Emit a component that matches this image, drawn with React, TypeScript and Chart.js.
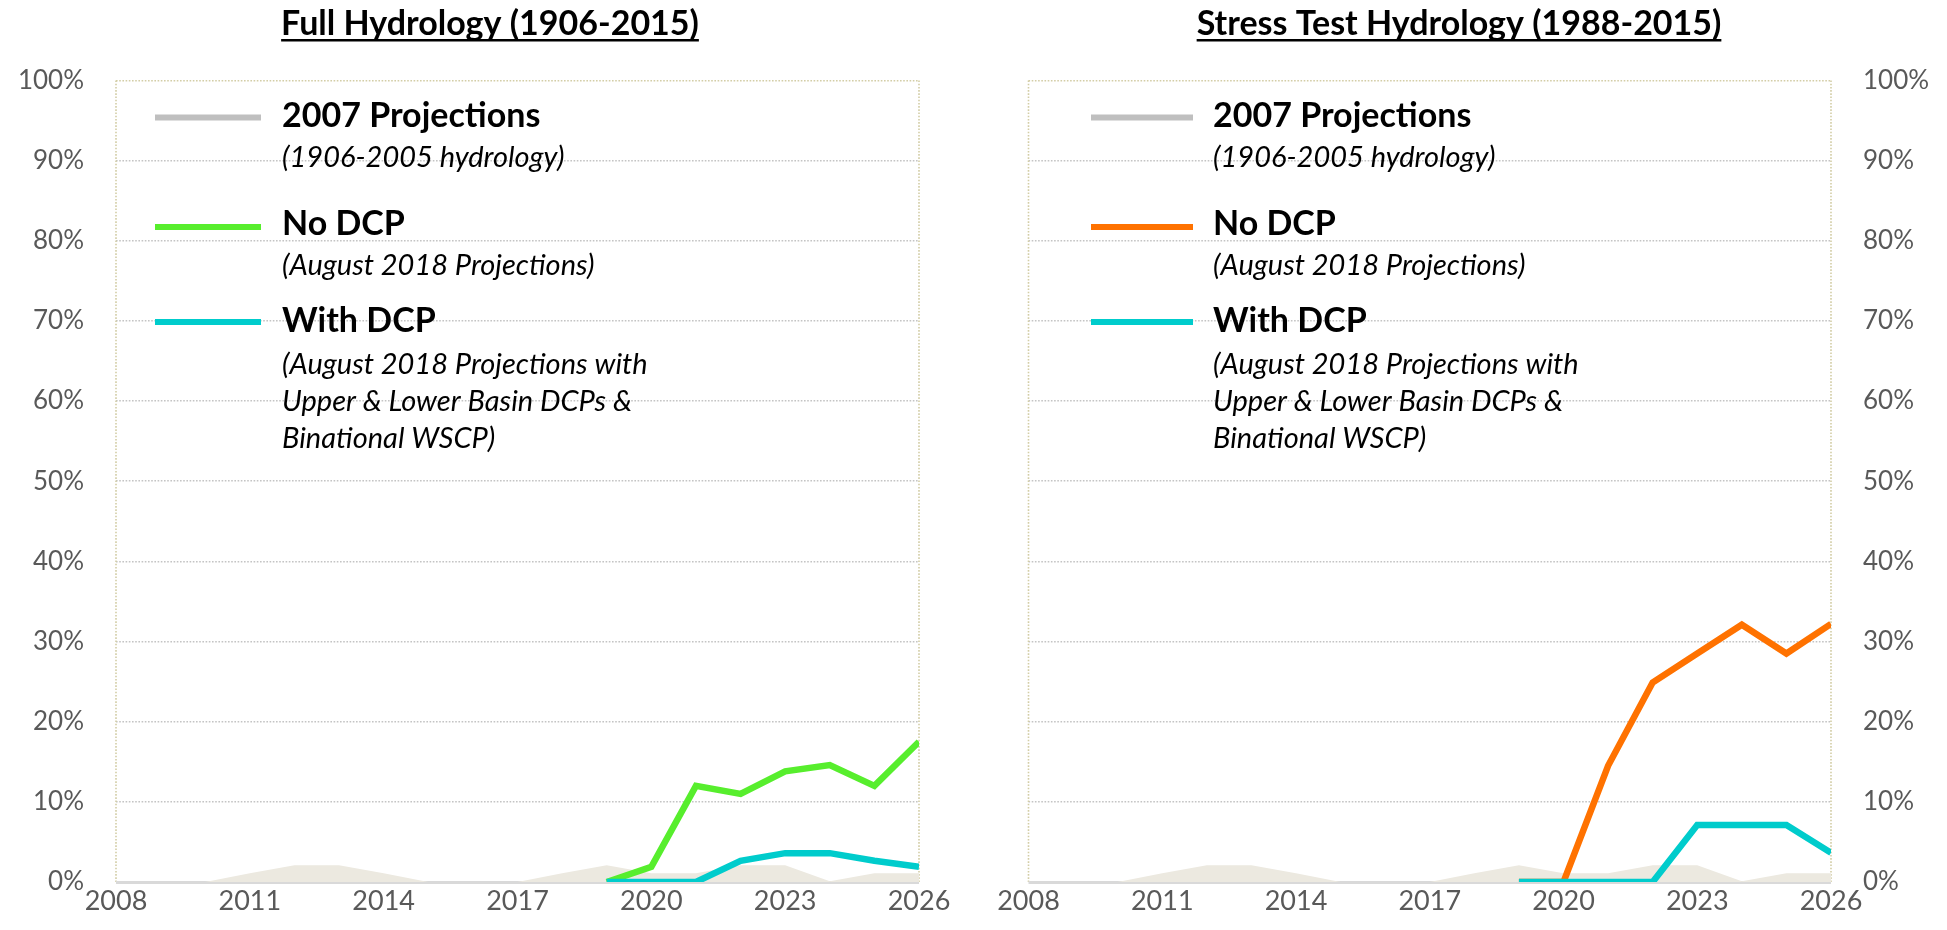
import React, { useEffect, useRef } from "react";
import { Chart, registerables } from "chart.js";

Chart.register(...registerables);

// ---------- data ----------
const areaYears = [2008, 2009, 2010, 2011, 2012, 2013, 2014, 2015, 2016, 2017, 2018, 2019, 2020, 2021, 2022, 2023, 2024, 2025, 2026];
const projections2007 = [0, 0, 0, 1.1, 2.1, 2.1, 1.1, 0, 0, 0, 1.1, 2.1, 1.1, 1.1, 2.1, 2.1, 0.1, 1.1, 1.1];

const lineYears = [2019, 2020, 2021, 2022, 2023, 2024, 2025, 2026];
const fullNoDcp = [0, 1.9, 12.0, 11.0, 13.8, 14.6, 12.0, 17.5];
const fullWithDcp = [0, 0, 0, 2.65, 3.6, 3.6, 2.65, 1.9];
const stressNoDcp = [0, 0, 14.5, 24.9, 28.5, 32.1, 28.5, 32.2];
const stressWithDcp = [0, 0, 0, 0, 7.1, 7.1, 7.1, 3.65];

const xTickYears = [2008, 2011, 2014, 2017, 2020, 2023, 2026];
const yTickValues = [0, 10, 20, 30, 40, 50, 60, 70, 80, 90, 100];

const titles = ["Full Hydrology (1906-2015)", "Stress Test Hydrology (1988-2015)"];
const legendHeads = ["2007 Projections", "No DCP", "With DCP"];
const legendSubs = [
  ["(1906-2005 hydrology)"],
  ["(August 2018 Projections)"],
  ["(August 2018 Projections with", "Upper & Lower Basin DCPs &", "Binational WSCP)"],
];

// ---------- styles ----------
const GREEN = "#57EE2D";
const ORANGE = "#FF7200";
const CYAN = "#00CCCC";
const LEGEND_GRAY = "#BFBFBF";
const AREA = "#ECE9E0";
const FRAME = "#D3CDA6";
const GRID = "#C4C4C4";
const TICK = "#595959";
const FONT = "Lato, 'Open Sans', sans-serif";

type Side = "left" | "right";

function pts(xs: number[], ys: number[]) {
  return xs.map((x, i) => ({ x, y: ys[i] }));
}

function makeChart(canvas: HTMLCanvasElement, side: Side) {
  const isLeft = side === "left";
  const noDcp = isLeft ? fullNoDcp : stressNoDcp;
  const withDcp = isLeft ? fullWithDcp : stressWithDcp;
  const noColor = isLeft ? GREEN : ORANGE;
  const title = isLeft ? titles[0] : titles[1];
  const titleCenter = isLeft ? 490 : 486;
  const legLine0 = isLeft ? 155 : 118;
  const legLine1 = isLeft ? 261 : 220;
  const legText = isLeft ? 282 : 240;

  const decor = {
    id: "decor" + side,
    beforeDatasetsDraw(chart: any) {
      const { ctx, chartArea } = chart;
      const { left, right, top, bottom } = chartArea;
      ctx.save();
      ctx.strokeStyle = FRAME;
      ctx.lineWidth = 1.6;
      ctx.setLineDash([1.6, 1.6]);
      ctx.beginPath();
      ctx.moveTo(left, top);
      ctx.lineTo(left, bottom);
      ctx.moveTo(right, top);
      ctx.lineTo(right, bottom);
      ctx.stroke();
      ctx.setLineDash([]);
      ctx.strokeStyle = "#D9D9D9";
      ctx.lineWidth = 3;
      ctx.beginPath();
      ctx.moveTo(left, bottom + 0.5);
      ctx.lineTo(right, bottom + 0.5);
      ctx.stroke();
      ctx.restore();
    },
    afterDraw(chart: any) {
      const { ctx } = chart;
      ctx.save();
      // title
      ctx.font = `bold 34px ${FONT}`;
      ctx.fillStyle = "#000";
      ctx.textAlign = "left";
      ctx.textBaseline = "alphabetic";
      const w = ctx.measureText(title).width;
      const tx = titleCenter - w / 2;
      ctx.fillText(title, tx, 35);
      ctx.fillRect(tx, 39, w, 2.5);

      // legend
      const lineColors = [LEGEND_GRAY, noColor, CYAN];
      const lineYs = [117.5, 227, 322];
      const headBase = [127, 235, 332];
      const subBase = [[167], [275], [374, 411, 448]];
      for (let i = 0; i < 3; i++) {
        ctx.fillStyle = lineColors[i];
        ctx.fillRect(legLine0, lineYs[i] - 3, legLine1 - legLine0, 6);
        ctx.fillStyle = "#000";
        ctx.font = `bold 34px ${FONT}`;
        ctx.fillText(legendHeads[i], legText, headBase[i]);
        ctx.font = `italic 29px ${FONT}`;
        legendSubs[i].forEach((s, j) => ctx.fillText(s, legText, subBase[i][j]));
      }
      ctx.restore();
    },
  };

  return new Chart(canvas, {
    type: "line",
    data: {
      datasets: [
        {
          label: "With DCP",
          data: pts(lineYears, withDcp),
          borderColor: CYAN,
          borderWidth: 6.5,
          pointRadius: 0,
          borderJoinStyle: "miter",
          fill: false,
          tension: 0,
        },
        {
          label: "No DCP",
          data: pts(lineYears, noDcp),
          borderColor: noColor,
          borderWidth: 6.5,
          pointRadius: 0,
          borderJoinStyle: "miter",
          fill: false,
          tension: 0,
        },
        {
          label: "2007 Projections",
          data: pts(areaYears, projections2007),
          borderWidth: 0,
          borderColor: "rgba(0,0,0,0)",
          backgroundColor: AREA,
          pointRadius: 0,
          fill: "origin",
          tension: 0,
        },
      ],
    },
    options: {
      animation: false,
      responsive: false,
      devicePixelRatio: 1,
      layout: {
        padding: { left: isLeft ? 0 : 55.5, right: isLeft ? 54 : 0, top: 80.5, bottom: 0 },
      },
      plugins: {
        legend: { display: false },
        title: { display: false },
        tooltip: { enabled: false },
      },
      scales: {
        x: {
          type: "linear",
          min: 2008,
          max: 2026,
          afterBuildTicks: (scale: any) => {
            scale.ticks = xTickYears.map((v) => ({ value: v }));
          },
          afterFit: (scale: any) => {
            scale.height = 48;
          },
          ticks: {
            autoSkip: false,
            maxRotation: 0,
            padding: 6,
            color: TICK,
            font: { family: FONT, size: 27, lineHeight: 1 },
            callback: (v: any) => String(v),
          },
          grid: { display: false, drawTicks: false },
          border: { display: false },
        },
        y: {
          type: "linear",
          position: isLeft ? "left" : "right",
          min: 0,
          max: 100,
          afterBuildTicks: (scale: any) => {
            scale.ticks = yTickValues.map((v) => ({ value: v }));
          },
          afterFit: (scale: any) => {
            scale.width = 116;
          },
          ticks: {
            padding: 32,
            color: TICK,
            font: { family: FONT, size: 26 },
            callback: (v: any) => v + "%",
          },
          grid: {
            drawTicks: false,
            lineWidth: 1.6,
            color: (c: any) =>
              c.tick && c.tick.value === 0
                ? "rgba(0,0,0,0)"
                : c.tick && c.tick.value === 100
                ? FRAME
                : GRID,
          },
          border: { display: false, dash: [1.6, 1.6] },
        },
      },
    },
    plugins: [decor],
  } as any);
}

function Panel({ side }: { side: Side }) {
  const ref = useRef<HTMLCanvasElement>(null);
  useEffect(() => {
    if (!ref.current) return;
    const c = makeChart(ref.current, side);
    return () => c.destroy();
  }, [side]);
  const isLeft = side === "left";
  return (
    <canvas
      ref={ref}
      width={isLeft ? 973 : 974}
      height={930}
      style={{
        position: "absolute",
        left: isLeft ? 0 : 973,
        top: 0,
        width: isLeft ? 973 : 974,
        height: 930,
        display: "block",
      }}
    />
  );
}

export default function App() {
  useEffect(() => {
    document.body.style.margin = "0";
    document.body.style.overflow = "hidden";
    document.body.style.background = "#fff";
  }, []);
  return (
    <div style={{ position: "absolute", left: 0, top: 0, width: 1947, height: 930, background: "#fff", overflow: "hidden" }}>
      <Panel side="left" />
      <Panel side="right" />
    </div>
  );
}
